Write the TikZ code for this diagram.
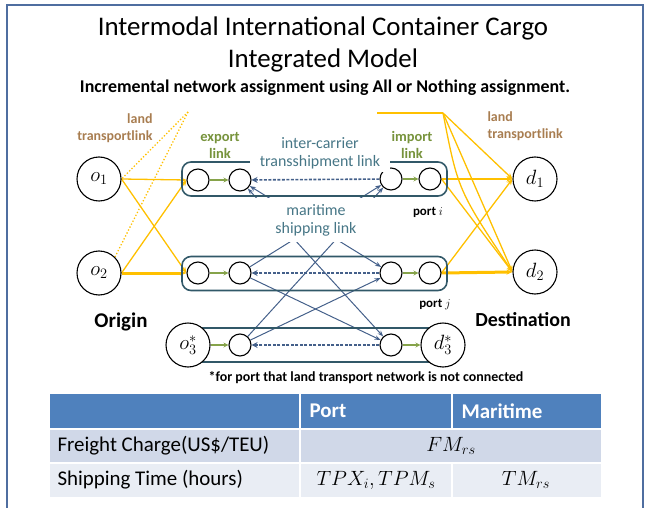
\documentclass[tikz,border=0pt]{standalone}
\usepackage{fontspec}
\setmainfont{Carlito}
\usetikzlibrary{arrows.meta}
\pgfdeclarelayer{back}
\pgfsetlayers{back,main}
\definecolor{landyellow}{HTML}{FFC000}
\definecolor{landbrown}{RGB}{168,125,80}
\definecolor{linkgreen}{RGB}{119,147,60}
\definecolor{arrowgreen}{RGB}{134,163,74}
\definecolor{portteal}{RGB}{49,88,104}
\definecolor{carrierteal}{RGB}{70,118,134}
\definecolor{seablue}{RGB}{68,96,138}
\definecolor{frameblue}{RGB}{79,110,160}
\definecolor{headblue}{HTML}{4F81BD}
\definecolor{rowone}{HTML}{D0D8E8}
\definecolor{rowtwo}{HTML}{E9EDF4}
\tikzset{
  bignode/.style={circle, draw, line width=1.1pt, fill=white, minimum size=44bp, inner sep=0pt, font=\fontsize{21}{21}\selectfont},
  portnode/.style={circle, draw, line width=1.1pt, fill=white, minimum size=22bp, inner sep=0pt},
  portbox/.style={draw=portteal, line width=1.6pt, rounded corners=9bp, minimum width=265bp, minimum height=34bp},
  landlink/.style={draw=landyellow, line width=1.3pt, -{Stealth[length=6bp,width=5bp]}},
  landdots/.style={draw=landyellow, line width=1.3pt, dotted},
  expimp/.style={draw=arrowgreen, line width=1.6pt, -{Stealth[length=5bp,width=5bp]}},
  carrier/.style={draw=seablue, line width=1.6pt, dash pattern=on 3bp off 1.5bp, -{Stealth[length=6bp,width=6bp]}},
  seaway/.style={draw=seablue, line width=1pt},
  landlabel/.style={text=landbrown, font=\fontsize{14}{17}\bfseries\selectfont},
  greenlabel/.style={text=linkgreen, align=center, font=\fontsize{14.5}{17}\bfseries\selectfont},
  sealabel/.style={text=carrierteal, fill=white, align=center, inner sep=1bp, font=\fontsize{16}{18}\selectfont},
  celltext/.style={font=\fontsize{21}{21}\selectfont},
}
\begin{document}
\begin{tikzpicture}[x=1bp,y=-1bp]
\useasboundingbox (0,0) rectangle (646,508);
% frame and title
\draw[frameblue, line width=1.5bp] (7,508) -- (7,5) -- (643,5) -- (643,508);
\node (title) at (323,28) {\fontsize{27}{27}\selectfont Intermodal International Container Cargo};
\node (titlesub) at (323,60) {\fontsize{27}{27}\selectfont Integrated Model};
\node (subtitle) at (325,88) {\fontsize{18}{18}\bfseries\selectfont Incremental network assignment using All or Nothing assignment.};
% ports
\node[portbox] (row1) at (314.5,179) {};
\node[portbox] (row2) at (314.5,273.5) {};
\node[portbox] (row3) at (314.5,345) {};
\node[portnode] (pa1) at (198,180) {};
\node[portnode] (pa2) at (240,180) {};
\node[portnode] (pa3) at (391,179) {};
\node[portnode] (pa4) at (430,179) {};
\node[portnode] (pb1) at (198,273) {};
\node[portnode] (pb2) at (240,273) {};
\node[portnode] (pb3) at (391,273) {};
\node[portnode] (pb4) at (430,273) {};
\node[portnode] (pc2) at (240,345) {};
\node[portnode] (pc3) at (391,345) {};
% origins and destinations
\node[bignode] (o1) at (99,179) {$o_1$};
\node[bignode] (o2) at (99,273) {$o_2$};
\node[bignode] (o3) at (188,345) {$o_3^*$};
\node[bignode] (d1) at (535,179) {$d_1$};
\node[bignode] (d2) at (535,272) {$d_2$};
\node[bignode] (d3) at (443,345) {$d_3^*$};
\coordinate (ltop) at (188,112);
\coordinate (rstart) at (377,113);
\coordinate (rtop) at (443,113);
% links
\begin{pgfonlayer}{back}
\draw[landdots] (ltop) -- (o1.east);
\draw[landdots] (ltop) -- (o2.north east);
\draw[landlink] (o1.east) -- (pa1.west);
\draw[landlink] (o1.east) -- (pb1.west);
\draw[landlink] (o2.east) -- (pa1.west);
\draw[landlink, line width=3bp] (o2.east) -- (pb1.west);
\draw[landlink] (pa4.east) -- (d1.west);
\draw[landlink] (pa4.east) -- (d2.west);
\draw[landlink] (pb4.east) -- (d1.west);
\draw[landlink, line width=3bp] (pb4.east) -- (d2.west);
\draw[landyellow, line width=1.3pt] (rstart) -- (rtop);
\draw[landlink] (rtop) -- (d1.west);
\draw[landlink] (rtop) -- (d2.west);
\draw[landlink] (rtop) .. controls (458,190) .. (d2.west);
\draw[seaway, -{Stealth[length=6bp]}] (pb2) -- (pa3);
\draw[seaway, -{Stealth[length=6bp]}] (pc2) -- (pa3);
\draw[seaway, {Stealth[length=6bp]}-{Stealth[length=6bp]}] (pa2) -- (pb3);
\draw[seaway, {Stealth[length=6bp]}-{Stealth[length=6bp]}] (pa2) -- (pc3);
\draw[seaway, -{Stealth[length=6bp]}] (pb2) -- (pc3);
\draw[seaway, -{Stealth[length=6bp]}] (pc2) -- (pb3);
\end{pgfonlayer}
\draw[carrier] (pa3) -- (pa2);
\draw[carrier] (pb3) -- (pb2);
\draw[carrier] (pc3) -- (pc2);
\draw[expimp] (pa1) -- (pa2);
\draw[expimp] (pa3) -- (pa4);
\draw[expimp] (pb1) -- (pb2);
\draw[expimp] (pb3) -- (pb4);
\draw[expimp] (o3) -- (pc2);
\draw[expimp] (pc3) -- (d3);
% labels
\node[landlabel, anchor=east, align=right] (landleft) at (156,128) {land\\transportlink};
\node[landlabel, anchor=west, align=left] (landright) at (484,126) {land\\transportlink};
\node[greenlabel] (exportlbl) at (220,145) {export\\link};
\node[greenlabel] (importlbl) at (412,145) {import\\link};
\node[sealabel, minimum width=140bp, minimum height=38bp] (carrierlbl) at (320,153) {inter-carrier\\transshipment link};
\node[sealabel, minimum width=126bp, minimum height=44bp] (sealbl) at (316,220) {maritime\\shipping link};
\node[font=\fontsize{13}{13}\bfseries\selectfont] (porti) at (428,212) {port $i$};
\node[font=\fontsize{13}{13}\bfseries\selectfont] (portj) at (435,305) {port $j$};
\node[font=\fontsize{21}{21}\bfseries\selectfont] (origin) at (121,322) {Origin};
\node[font=\fontsize{20}{20}\bfseries\selectfont] (dest) at (523,320) {Destination};
\node[font=\fontsize{14}{14}\bfseries\selectfont] (note) at (366,378) {*for port that land transport network is not connected};
% table
\fill[headblue] (50,394) rectangle (601,428);
\fill[rowone] (50,430) rectangle (601,462);
\fill[rowtwo] (50,464) rectangle (601,497);
\draw[white, line width=1.5bp] (300,394) -- (300,428) (452,394) -- (452,428);
\draw[white, line width=1.5bp] (300,430) -- (300,497) (452,464) -- (452,497);
\node[celltext, text=white, anchor=west] (porthead) at (306,411) {\bfseries Port};
\node[celltext, text=white, anchor=west] (seahead) at (458,411) {\bfseries Maritime};
\node[celltext, anchor=west] (charge) at (54,446) {Freight Charge(US\$/TEU)};
\node[celltext, anchor=west] (shiptime) at (54,480) {Shipping Time (hours)};
\node[celltext] (fmrs) at (451,446) {$FM_{rs}$};
\node[celltext] (tpx) at (376,480) {$TPX_i, TPM_s$};
\node[celltext] (tmrs) at (526,480) {$TM_{rs}$};
\end{tikzpicture}
\end{document}
